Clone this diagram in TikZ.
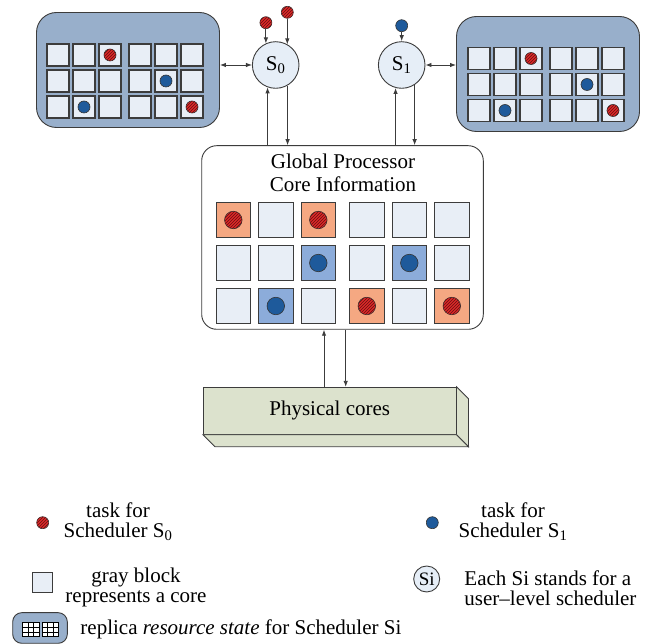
\documentclass[tikz,border=0pt]{standalone}
\usepackage{fontspec}
\setmainfont{Liberation Serif}
\usetikzlibrary{arrows.meta,
                patterns}

\definecolor{linegray}{HTML}{3C3C3C}
\definecolor{replicablue}{HTML}{98AFCB}
\definecolor{coregray}{HTML}{E8EEF6}
\definecolor{schedfill}{HTML}{E6EEF7}
\definecolor{busyred}{HTML}{F5A882}
\definecolor{busyblue}{HTML}{8CACDA}
\definecolor{taskred}{HTML}{DE2828}
\definecolor{taskblue}{HTML}{1E5A9B}
\definecolor{physgreen}{HTML}{DCE2CD}

\begin{document}
\begin{tikzpicture}[x=1pt, y=-1pt, line width=0.9pt,
    font=\fontsize{21}{20}\selectfont,
    conn/.style={draw=linegray, -{Latex[length=6pt, width=4.5pt]}},
    both/.style={draw=linegray, {Latex[length=6pt, width=4.5pt]}-{Latex[length=6pt, width=4.5pt]}},
    replica/.style={draw=linegray, fill=replicablue, rounded corners=20, minimum width=183, minimum height=115},
    core/.style={draw=linegray, line width=1.1pt, fill=coregray, inner sep=0, minimum size=22},
    bigcore/.style={core, minimum size=34.5},
    task/.style={circle, draw=black!80, line width=0.6pt, inner sep=0, minimum size=12},
    redtask/.style={task, fill=taskred, postaction={pattern=north east lines, pattern color=taskred!45!black}},
    bluetask/.style={task, fill=taskblue},
    bigtask/.style={minimum size=17.5},
    sched/.style={circle, draw=linegray, fill=schedfill, inner sep=0, minimum size=46.6},
    keytext/.style={inner sep=0}]
  \useasboundingbox (0,0) rectangle (649,644);

  \node[replica] (lbox) at (128,70) {};
  \node[replica] (rbox) at (548,74) {};
  \foreach \r in {1,2,3}
    \foreach \c in {1,...,6} {
      \node[core] (L-\r-\c) at ({58+26*(\c-1)+(\c>3)*4}, {55+26*(\r-1)}) {};
      \node[core] (R-\r-\c) at ({479+26*(\c-1)+(\c>3)*4}, {58.5+26*(\r-1)}) {};
    }
  \foreach \side in {L,R} {
    \node[redtask]  (\side-t1) at (\side-1-3) {};
    \node[bluetask] (\side-t2) at (\side-2-5) {};
    \node[bluetask] (\side-t3) at (\side-3-2) {};
    \node[redtask]  (\side-t4) at (\side-3-6) {};
  }

  \node[sched] (s0) at (275.7,65) {S\textsubscript{0}};
  \node[sched] (s1) at (401.7,65) {S\textsubscript{1}};
  \draw[both] (lbox.east |- s0.west) -- (s0.west);
  \draw[both] (s1.east) -- (s1.east -| rbox.west);

  \node[redtask]  (in-a) at (265.9,22.7) {};
  \node[redtask]  (in-b) at (287.3,12.3) {};
  \node[bluetask] (in-c) at (401.7,25.7) {};
  \draw[conn] (in-a.south) -- (in-a.south |- s0.115);
  \draw[conn] (in-b.south) -- (in-b.south |- s0.60);
  \draw[conn] (in-c.south) -- (s1.north);

  \node[draw=linegray, fill=white, rounded corners=15, minimum width=281.6, minimum height=183.6] (global) at (342.5,237.5) {};
  \node[align=center, inner sep=0] (title) at (343,173) {Global Processor\\[3pt]Core Information};
  \foreach \rowfill [count=\r] in {{busyred,coregray,busyred,coregray,coregray,coregray},
                                  {coregray,coregray,busyblue,coregray,busyblue,coregray},
                                  {coregray,busyblue,coregray,busyred,coregray,busyred}}
    \foreach \f [count=\c] in \rowfill
      \node[bigcore, fill=\f] (G-\r-\c) at ({233.3+42.5*(\c-1)+(\c>3)*6}, {220+43*(\r-1)}) {};
  \foreach \cell in {G-1-1, G-1-3, G-3-4, G-3-6}
    \node[redtask, bigtask] (\cell-t) at (\cell) {};
  \foreach \cell in {G-2-3, G-2-5, G-3-2}
    \node[bluetask, bigtask] (\cell-t) at (\cell) {};

  \draw[conn] (s0.250 |- global.north) -- (s0.250);
  \draw[conn] (s0.300) -- (s0.300 |- global.north);
  \draw[conn] (s1.255 |- global.north) -- (s1.255);
  \draw[conn] (s1.303) -- (s1.303 |- global.north);

  \node[draw=linegray, fill=physgreen, inner sep=0, minimum width=252.7, minimum height=47] (phys) at (329.7,410.8) {Physical cores};
  \draw[draw=linegray, fill=physgreen] (phys.north east) -- ++(12,12) -- ([shift={(12,12)}]phys.south east) -- (phys.south east) -- cycle;
  \draw[draw=linegray, fill=physgreen] (phys.south west) -- ++(12,12) -- ([shift={(12,12)}]phys.south east) -- (phys.south east) -- cycle;
  \draw[conn] ([xshift=-5.7pt]phys.north) -- ([xshift=-5.7pt]phys.north |- global.south);
  \draw[conn] ([xshift=16pt]phys.north |- global.south) -- ([xshift=16pt]phys.north);

  \node[redtask] (key-red) at (42.7,522.7) {};
  \node[keytext, align=center] (key-red-txt) at (118,522) {task for\\Scheduler S\textsubscript{0}};
  \node[bluetask] (key-blue) at (432.3,522.7) {};
  \node[keytext, align=center] (key-blue-txt) at (513,522) {task for\\Scheduler S\textsubscript{1}};
  \node[core, minimum size=19.5] (key-core) at (42.5,582.5) {};
  \node[keytext, align=center] (key-core-txt) at (136,587) {gray block\\represents a core};
  \node[sched, minimum size=26, font=\fontsize{19}{19}\selectfont] (key-s) at (426.7,579) {Si};
  \node[keytext, align=left, anchor=west] (key-s-txt) at (464,588) {Each Si stands for a\\user–level scheduler};
  \node[replica, minimum width=54.6, minimum height=30.6, rounded corners=9] (key-rep) at (40,628) {};
  \foreach \gx in {22.7,42.3} {
    \draw[fill=white, line width=0.8pt] (\gx,622.7) rectangle ++(16.5,14);
    \draw[line width=0.8pt] (\gx+5.5,622.7) -- ++(0,14) (\gx+11,622.7) -- ++(0,14)
      (\gx,627.4) -- ++(16.5,0) (\gx,632) -- ++(16.5,0);
  }
  \node[keytext, anchor=west] (key-rep-txt) at (80,629) {replica \emph{resource state} for Scheduler Si};
\end{tikzpicture}
\end{document}
